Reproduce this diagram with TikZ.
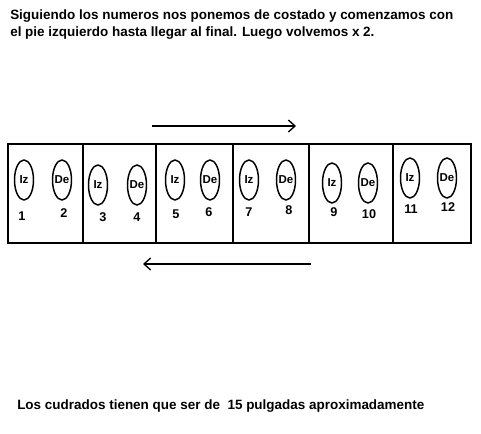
\documentclass[tikz,border=0pt]{standalone}
\usepackage{fontspec}
\setmainfont{Liberation Sans}
\usetikzlibrary{shapes.geometric,arrows.meta}
\newcommand\zwlabel[1]{\makebox[0pt]{#1}}
\begin{document}
\begin{tikzpicture}[x=0.75pt,y=-0.75pt,
  foot/.style={draw,ellipse,line width=1.1pt,minimum width=19*0.75pt,minimum height=40*0.75pt,inner sep=0pt,font=\bfseries\fontsize{8.6}{10}\selectfont},
  num/.style={font=\bfseries\fontsize{9.5}{10}\selectfont,inner sep=0pt},
  box/.style={draw,line width=1.4pt,anchor=north west,inner sep=0pt,minimum height=99*0.75pt},
  dir/.style={line width=1.4pt,-{Straight Barb[length=5pt,width=9pt,line width=1pt]}},
  txt/.style={font=\bfseries\fontsize{10.1}{12}\selectfont,inner sep=0pt,anchor=west}]
\useasboundingbox (0,0) rectangle (481,434);
\fill[white] (0,0) rectangle (481,434);
\node[txt] (t1) at (10,16) {Siguiendo los numeros nos ponemos de costado y comenzamos con};
\node[txt] (t2) at (10,33) {el pie izquierdo hasta llegar al final. Luego volvemos x 2.};
\node[txt] (t3) at (17,406) {Los cudrados tienen que ser de \ 15 pulgadas aproximadamente};
% squares
\node[box,minimum width=75*0.75pt] (s1) at (7,143) {};
\node[box,minimum width=73*0.75pt] (s2) at (82,143) {};
\node[box,minimum width=77*0.75pt] (s3) at (155,143) {};
\node[box,minimum width=76*0.75pt] (s4) at (232,143) {};
\node[box,minimum width=84*0.75pt] (s5) at (308,143) {};
\node[box,minimum width=78*0.75pt] (s6) at (392,143) {};
% feet
\node[foot] (f1) at (24,180) {\zwlabel{Iz}};
\node[foot] (f2) at (62,180) {\zwlabel{De}};
\node[foot] (f3) at (98,185) {\zwlabel{Iz}};
\node[foot] (f4) at (137,185) {\zwlabel{De}};
\node[foot] (f5) at (175,180) {\zwlabel{Iz}};
\node[foot] (f6) at (210,180) {\zwlabel{De}};
\node[foot] (f7) at (249,180) {\zwlabel{Iz}};
\node[foot] (f8) at (286,180) {\zwlabel{De}};
\node[foot] (f9) at (332,183) {\zwlabel{Iz}};
\node[foot] (f10) at (368,183) {\zwlabel{De}};
\node[foot] (f11) at (410,178) {\zwlabel{Iz}};
\node[foot] (f12) at (447,178) {\zwlabel{De}};
% numbers
\node[num] (n1) at (22,216) {1};
\node[num] (n2) at (64,213) {2};
\node[num] (n3) at (103,217) {3};
\node[num] (n4) at (137,217) {4};
\node[num] (n5) at (176,214) {5};
\node[num] (n6) at (209,212) {6};
\node[num] (n7) at (249,212) {7};
\node[num] (n8) at (289,210) {8};
\node[num] (n9) at (334,212) {9};
\node[num] (n10) at (369,214) {10};
\node[num] (n11) at (411,209) {11};
\node[num] (n12) at (448,207) {12};
% arrows
\coordinate (a1) at (152,126);
\coordinate (a2) at (296,126);
\coordinate (b1) at (311,264);
\coordinate (b2) at (143,264);
\draw[dir] (a1) -- (a2);
\draw[dir] (b1) -- (b2);
\end{tikzpicture}
\end{document}
